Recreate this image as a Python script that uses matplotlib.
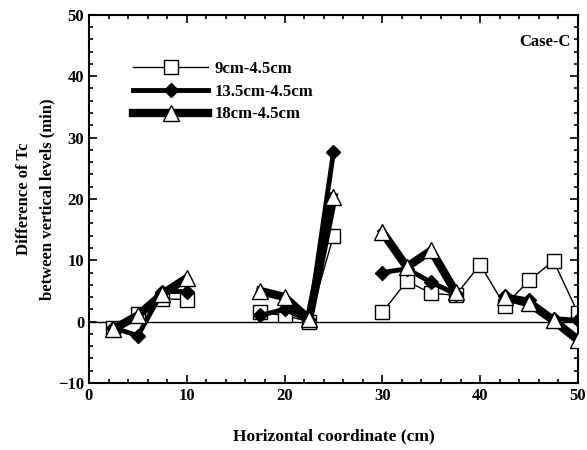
import numpy as np
import matplotlib.pyplot as plt
from matplotlib.ticker import MultipleLocator

plt.rcParams['font.family'] = ['Liberation Serif', 'DejaVu Serif']
plt.rcParams['font.weight'] = 'bold'

# horizontal positions (cm); NaN splits the lines into separate segments
x = [2.5, 5, 7.5, 10, np.nan, 17.5, 20, 22.5, 25, np.nan,
     30, 32.5, 35, 37.5, 40, 42.5, 45, 47.5, 50]

# 9cm-4.5cm
d9 = [-1.0, 1.2, 3.7, 3.6, np.nan, 1.5, 1.0, 0.0, 14.0, np.nan,
      1.5, 6.6, 4.6, 4.3, 9.3, 2.6, 6.7, 9.9, 1.4]
# 13.5cm-4.5cm
d13 = [-1.0, -2.3, 4.9, 4.9, np.nan, 1.0, 2.0, 0.2, 27.6, np.nan,
       8.0, 8.6, 6.4, 4.5, np.nan, 4.2, 3.5, 0.5, 0.2]
# 18cm-4.5cm
d18 = [-1.2, 1.0, 4.5, 7.1, np.nan, 5.0, 4.0, 0.4, 20.3, np.nan,
       14.6, 8.9, 11.6, 4.8, np.nan, 4.0, 3.0, 0.2, -3.0]

fig = plt.figure(figsize=(5.87, 4.5), dpi=100)
ax = fig.add_axes([0.1516, 0.149, 0.833, 0.818])

ax.axhline(0, color='black', lw=1.0, zorder=1)

ax.plot(x, d9, color='black', lw=1.0, marker='s', ms=10,
        mfc='white', mec='black', mew=1.0, label='9cm-4.5cm', zorder=2)
ax.plot(x, d13, color='black', lw=3.5, marker='D', ms=7,
        mfc='black', mec='black', label='13.5cm-4.5cm', zorder=3)
ax.plot(x, d18, color='black', lw=6.0, marker='^', ms=11,
        mfc='white', mec='black', mew=1.0, label='18cm-4.5cm', zorder=4)

ax.set_xlim(0, 50)
ax.set_ylim(-10, 50)
ax.xaxis.set_major_locator(MultipleLocator(10))
ax.xaxis.set_minor_locator(MultipleLocator(2))
ax.yaxis.set_major_locator(MultipleLocator(10))
ax.yaxis.set_minor_locator(MultipleLocator(2))
ax.tick_params(which='both', direction='in', top=True, right=True,
               labelsize=12, width=1.2)
ax.tick_params(which='major', length=6)
ax.tick_params(which='minor', length=3)
for s in ax.spines.values():
    s.set_linewidth(1.5)

ax.set_xlabel('Horizontal coordinate (cm)', fontsize=12.5,
              fontweight='bold', labelpad=18)
ax.set_ylabel('Difference of Tc\nbetween vertical levels (min)',
              fontsize=12, fontweight='bold', labelpad=2, linespacing=1.6)

ax.text(0.985, 0.925, 'Case-C', transform=ax.transAxes, ha='right',
        va='center', fontsize=12, fontweight='bold')

ax.legend(loc='upper left', bbox_to_anchor=(0.06, 0.915), frameon=False,
          handlelength=4.5, handletextpad=0.4, labelspacing=0.4,
          prop={'weight': 'bold', 'size': 12})

fig.savefig('out.png', dpi=100)
